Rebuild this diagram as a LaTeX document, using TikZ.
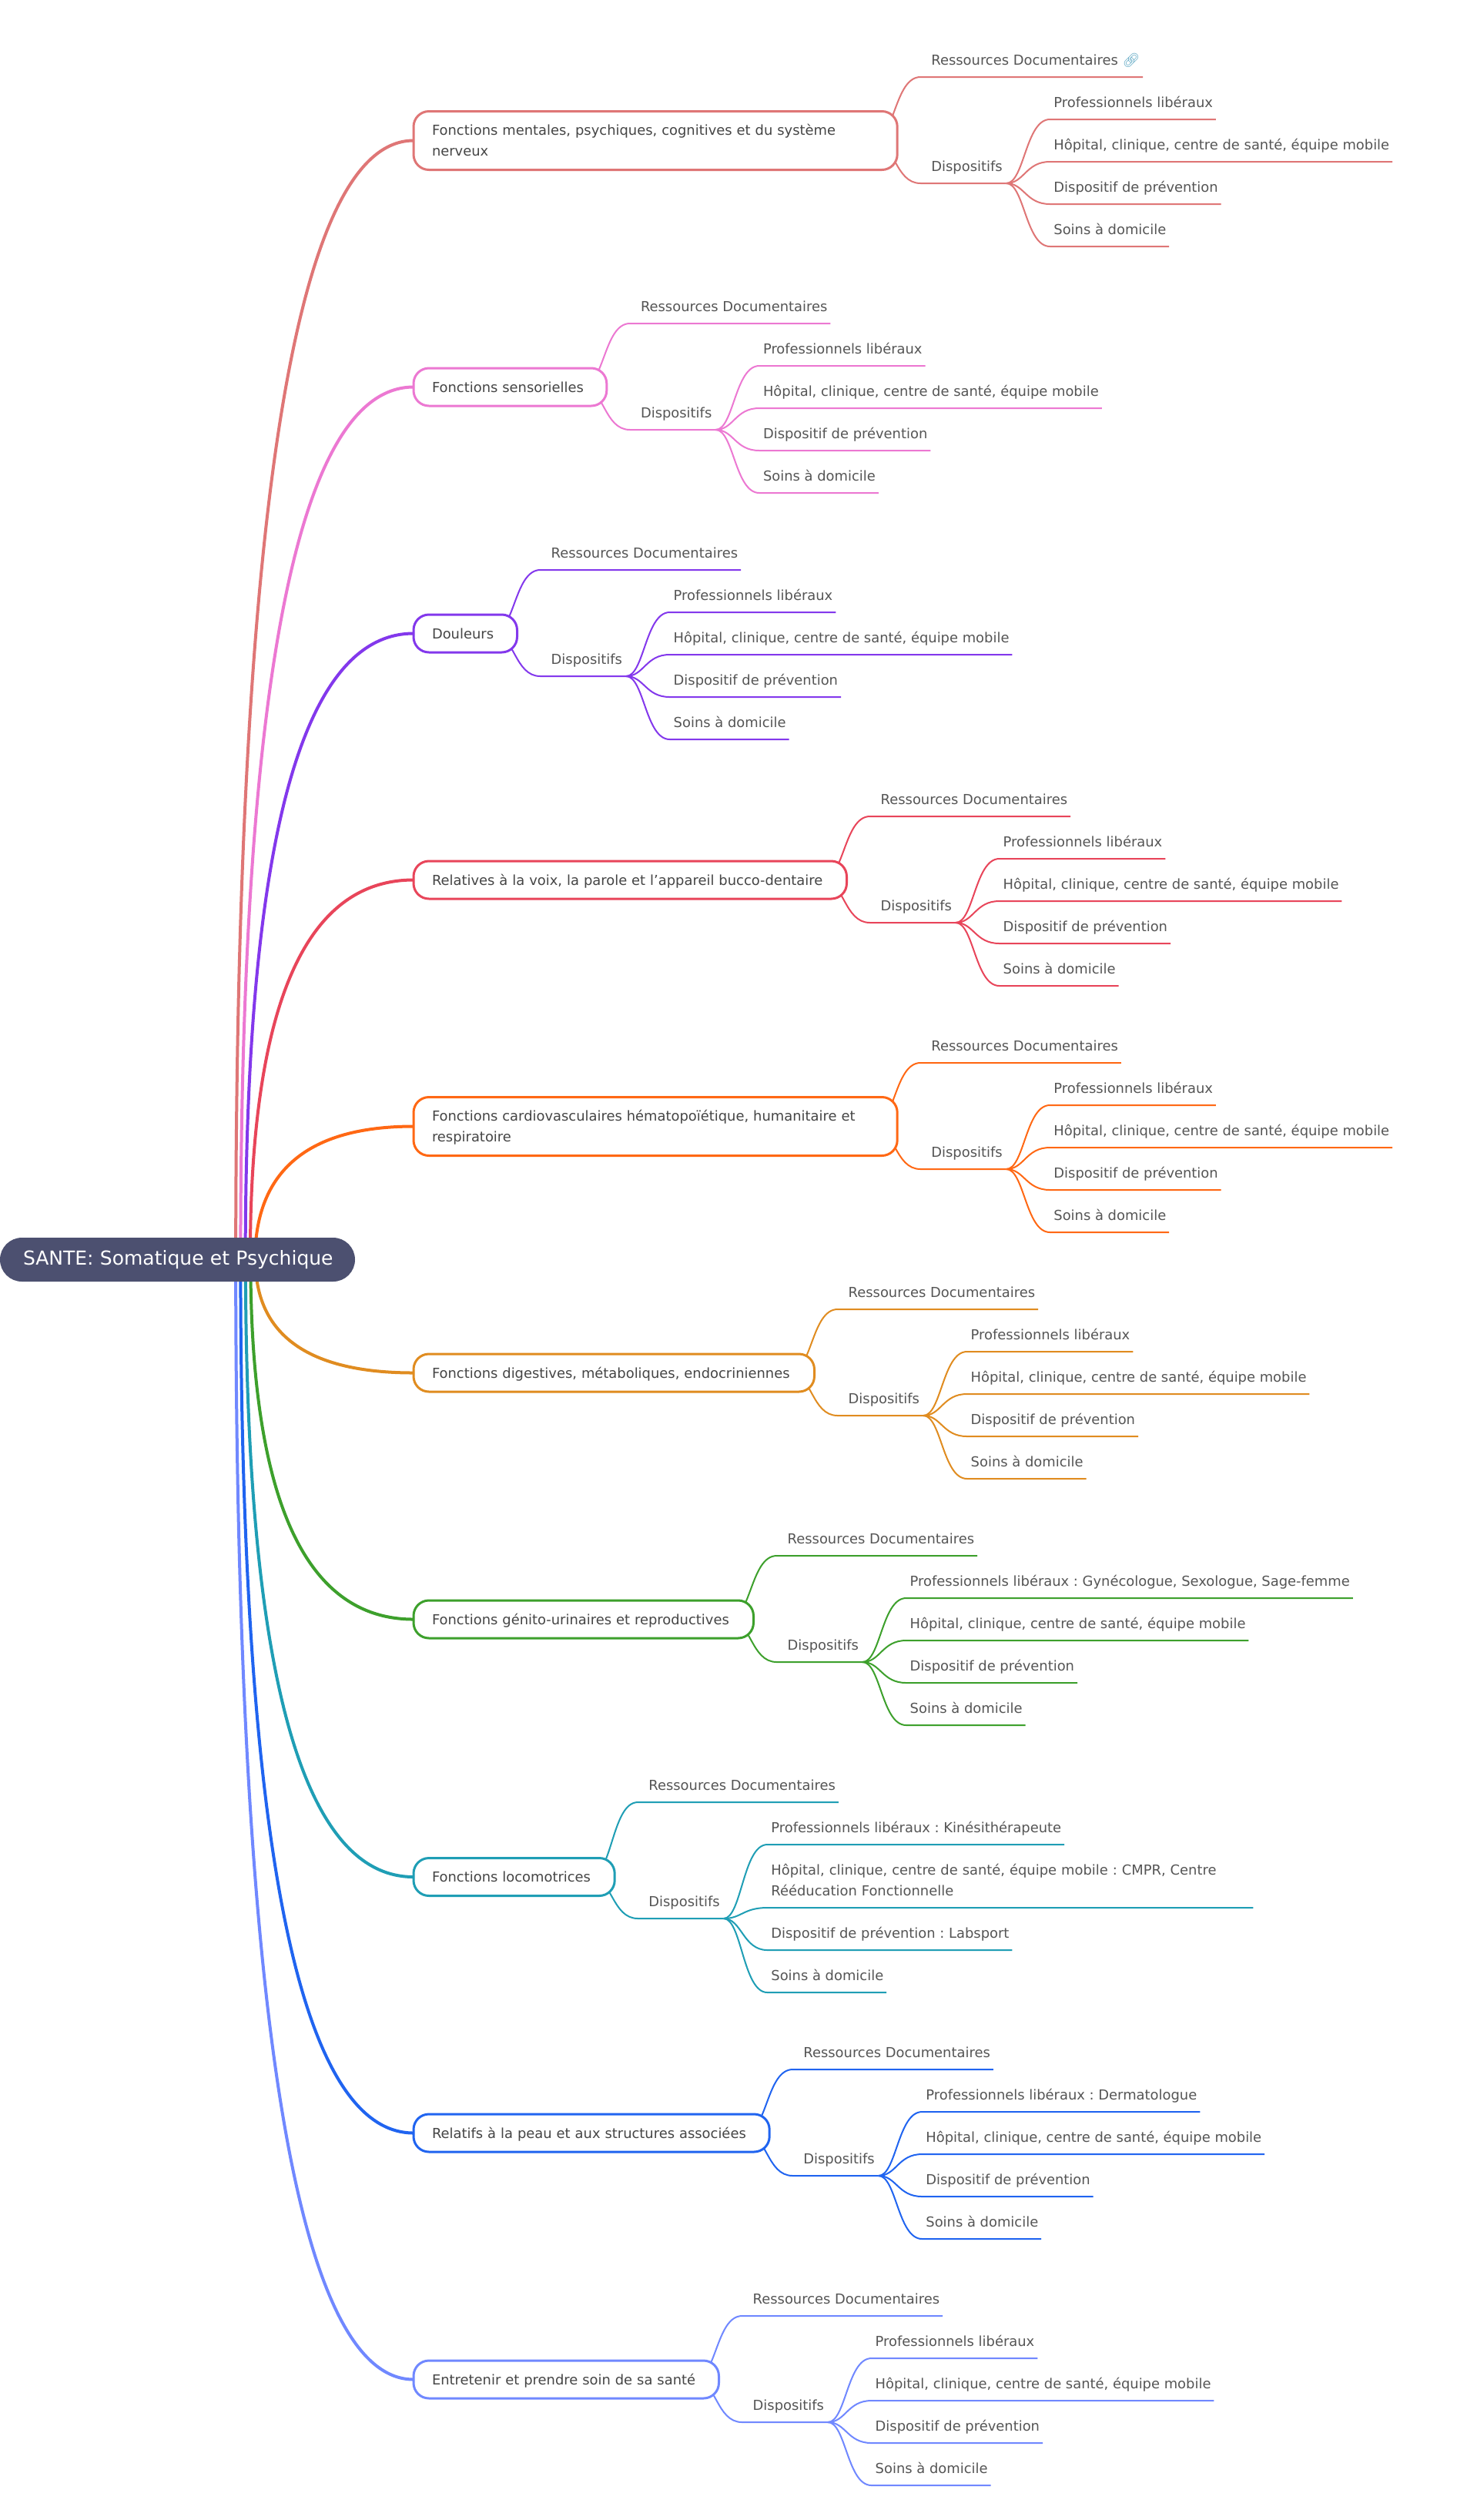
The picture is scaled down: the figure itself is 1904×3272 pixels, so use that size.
\documentclass[tikz,border=0pt]{standalone}
\usepackage{fontspec}
\setmainfont{DejaVu Sans}
\newfontfamily\emofont{Noto Emoji}
\usetikzlibrary{backgrounds,calc}
\definecolor{cA}{HTML}{DF7676}
\definecolor{cB}{HTML}{EC78D2}
\definecolor{cC}{HTML}{8338EC}
\definecolor{cD}{HTML}{E8455A}
\definecolor{cE}{HTML}{FF6814}
\definecolor{cF}{HTML}{E08C20}
\definecolor{cG}{HTML}{3DA02C}
\definecolor{cH}{HTML}{1F9EB5}
\definecolor{cI}{HTML}{2064F0}
\definecolor{cJ}{HTML}{7088FF}
\definecolor{rootc}{HTML}{4C5070}
\definecolor{leaftext}{HTML}{555555}
\definecolor{nodetext}{HTML}{454545}
\definecolor{linkc}{HTML}{5FA8C4}
\tikzset{
  rootnode/.style={fill=rootc,text=white,rounded corners=28.5pt,text width=401pt,align=left,minimum height=57pt,inner xsep=30pt,inner ysep=0pt,outer sep=0pt,font=\fontsize{25}{30}\selectfont},
  mainnode/.style={fill=white,line width=3pt,rounded corners=20pt,inner xsep=24pt,inner ysep=0pt,outer sep=0pt,align=left,text=nodetext,font=\fontsize{17.9}{27}\selectfont},
  leafnode/.style={anchor=south west,inner sep=0pt,outer sep=0pt,text=leaftext,align=left,font=\fontsize{17.9}{27}\selectfont},
  mainline/.style={line width=4pt},
  subline/.style={line width=2pt}
}
\newcommand\nstrut{\rule[-7pt]{0pt}{27pt}}
\newcommand\lstrut{\rule[-16pt]{0pt}{16pt}}
% id, colour, centre y, outer right edge, min height, text
\newcommand\mainbranch[6]{%
  \pgfmathsetmacro\nw{#4-1.5-537-48}
  \pgfmathsetmacro\rdx{334.5-0.0195*abs(#3-1635.5)-230.5}
  \pgfmathsetmacro\cy{(#3-1635.5)*2/3}
  \pgfmathsetmacro\cdx{(\rdx+230.5-537)*2/3}
  \node[mainnode,draw=#2,text width=\nw pt,minimum height=#5pt,anchor=west] (n#1) at (537,#3) {#6};
  \begin{pgfonlayer}{background}
    \draw[mainline,#2] ($(root.center)+(\rdx,0)$) .. controls ($(root.center)+(\rdx,\cy)$) and ($(n#1.west)+(\cdx,0)$) .. (n#1.west);
  \end{pgfonlayer}
}
% id, colour, outer right edge, res y, disp y, res text
\newcommand\resdisp[6]{%
  \node[leafnode] (r#1) at (#3+42.7,#4) {\lstrut #6};
  \node[leafnode] (d#1) at (#3+42.7,#5) {\lstrut Dispositifs};
  \begin{pgfonlayer}{background}
    \draw[subline,#2] ($(n#1.east)+(-32,0)$) .. controls ($(n#1.east)+(-3,0)$) and ($(r#1.south west)+(-48,0)$) .. ($(r#1.south west)+(-14,0)$) -- ($(r#1.south east)+(4,0)$);
    \draw[subline,#2] ($(n#1.east)+(-32,0)$) .. controls ($(n#1.east)+(-3,0)$) and ($(d#1.south west)+(-48,0)$) .. ($(d#1.south west)+(-14,0)$) -- ($(d#1.south east)+(5,0)$);
  \end{pgfonlayer}
}
% id, sub, colour, x, y, options, text
\newcommand\leafline[7]{%
  \node[leafnode,#6] (l#1#2) at (#4,#5) {#7};
  \begin{pgfonlayer}{background}
    \draw[subline,#3] ($(d#1.south east)+(5,0)$) .. controls ($(d#1.south east)+(28.4,0)$) and ($(l#1#2.south west)+(-36.6,0)$) .. ($(l#1#2.south west)+(-5,0)$) -- ($(l#1#2.south east)+(4,0)$);
  \end{pgfonlayer}
}
% id, colour, centre y, outer right, prof text
\newcommand\stdleaves[5]{%
  \leafline{#1}{a}{#2}{#4+201.7}{#3-27.5}{}{\lstrut #5}
  \leafline{#1}{b}{#2}{#4+201.7}{#3+27.5}{}{\lstrut Hôpital, clinique, centre de santé, équipe mobile}
  \leafline{#1}{c}{#2}{#4+201.7}{#3+82.5}{}{\lstrut Dispositif de prévention}
  \leafline{#1}{d}{#2}{#4+201.7}{#3+137.5}{}{\lstrut Soins à domicile}
}
\begin{document}
\frenchspacing
\begin{tikzpicture}[x=1pt,y=-1pt]
\begin{pgfonlayer}{background}
  \fill[white] (0,0) rectangle (1904,3272);
\end{pgfonlayer}
\useasboundingbox (0,0) rectangle (1904,3272);
\node[rootnode] (root) at (230.5,1635.5) {\mbox{SANTE: Somatique et Psychique}};
% 1
\mainbranch{1}{cA}{182.5}{1166.7}{76}{\nstrut Fonctions mentales, psychiques, cognitives et du système\\\nstrut nerveux}
\resdisp{1}{cA}{1166.7}{100}{238}{Ressources Documentaires {\emofont\textcolor{linkc}{🔗}}}
\stdleaves{1}{cA}{182.5}{1166.7}{Professionnels libéraux}
% 2
\mainbranch{2}{cB}{502.5}{789.3}{49}{\nstrut Fonctions sensorielles}
\resdisp{2}{cB}{789.3}{420}{558}{Ressources Documentaires}
\stdleaves{2}{cB}{502.5}{789.3}{Professionnels libéraux}
% 3
\mainbranch{3}{cC}{822.5}{673}{49}{\nstrut Douleurs}
\resdisp{3}{cC}{673}{740}{878}{Ressources Documentaires}
\stdleaves{3}{cC}{822.5}{673}{Professionnels libéraux}
% 4
\mainbranch{4}{cD}{1142.5}{1101}{49}{\nstrut Relatives à la voix, la parole et l’appareil bucco-dentaire}
\resdisp{4}{cD}{1101}{1060}{1198}{Ressources Documentaires}
\stdleaves{4}{cD}{1142.5}{1101}{Professionnels libéraux}
% 5
\mainbranch{5}{cE}{1462.5}{1166.7}{76}{\nstrut Fonctions cardiovasculaires hématopoïétique, humanitaire et\\\nstrut respiratoire}
\resdisp{5}{cE}{1166.7}{1380}{1518}{Ressources Documentaires}
\stdleaves{5}{cE}{1462.5}{1166.7}{Professionnels libéraux}
% 6
\mainbranch{6}{cF}{1782.5}{1059}{49}{\nstrut Fonctions digestives, métaboliques, endocriniennes}
\resdisp{6}{cF}{1059}{1700}{1838}{Ressources Documentaires}
\stdleaves{6}{cF}{1782.5}{1059}{Professionnels libéraux}
% 7
\mainbranch{7}{cG}{2102.5}{980}{49}{\nstrut Fonctions génito-urinaires et reproductives}
\resdisp{7}{cG}{980}{2020}{2158}{Ressources Documentaires}
\stdleaves{7}{cG}{2102.5}{980}{Professionnels libéraux : Gynécologue, Sexologue, Sage-femme}
% 8
\mainbranch{8}{cH}{2437}{799.7}{49}{\nstrut Fonctions locomotrices}
\resdisp{8}{cH}{799.7}{2340}{2491}{Ressources Documentaires}
\leafline{8}{a}{cH}{1001.4}{2395}{}{\lstrut Professionnels libéraux : Kinésithérapeute}
\leafline{8}{b}{cH}{1001.4}{2477}{text width=622pt}{Hôpital, clinique, centre de santé, équipe mobile : CMPR, Centre\\\lstrut Rééducation Fonctionnelle}
\leafline{8}{c}{cH}{1001.4}{2532}{}{\lstrut Dispositif de prévention : Labsport}
\leafline{8}{d}{cH}{1001.4}{2587}{}{\lstrut Soins à domicile}
% 9
\mainbranch{9}{cI}{2769.5}{1000.7}{49}{\nstrut Relatifs à la peau et aux structures associées}
\resdisp{9}{cI}{1000.7}{2687}{2825}{Ressources Documentaires}
\stdleaves{9}{cI}{2769.5}{1000.7}{Professionnels libéraux : Dermatologue}
% 10
\mainbranch{10}{cJ}{3089.5}{935}{49}{\nstrut Entretenir et prendre soin de sa santé}
\resdisp{10}{cJ}{935}{3007}{3145}{Ressources Documentaires}
\stdleaves{10}{cJ}{3089.5}{935}{Professionnels libéraux}
\end{tikzpicture}
\end{document}
